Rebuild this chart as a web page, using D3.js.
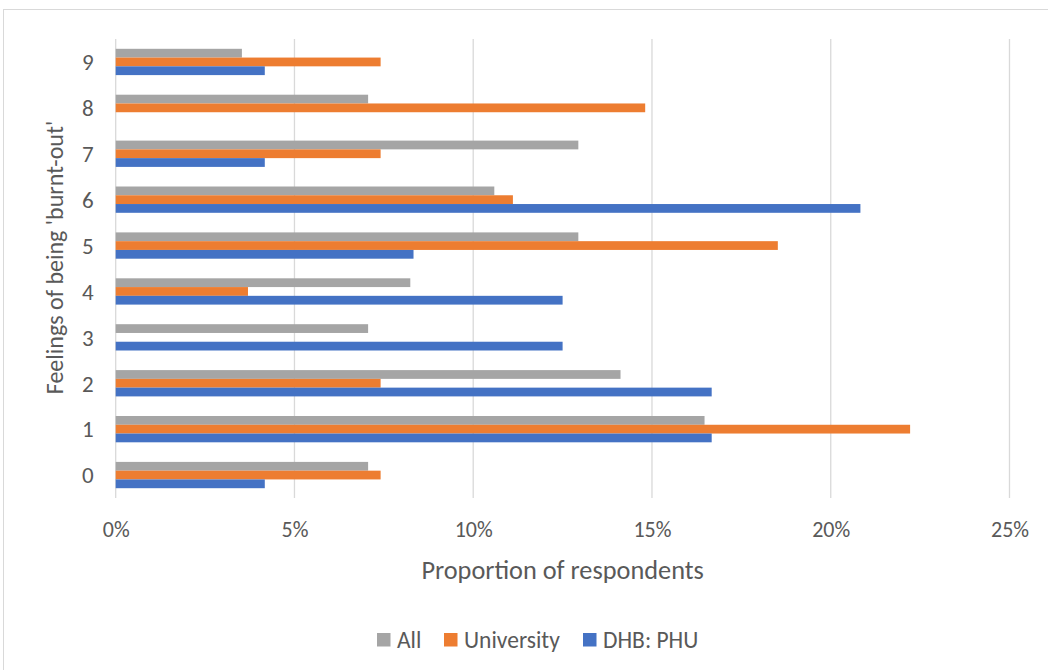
<!DOCTYPE html>
<html>
<head>
<meta charset="utf-8">
<script src="https://cdn.jsdelivr.net/npm/d3@7"></script>
<style>
  html, body { margin: 0; padding: 0; background: #fff; }
  svg { display: block; font-family: Calibri, Carlito, Lato, "Noto Sans", sans-serif; }
</style>
</head>
<body>
<svg id="chart" width="1048" height="670"></svg>
<script>
// ---- data (percent of respondents) ----
const categories = ["0", "1", "2", "3", "4", "5", "6", "7", "8", "9"];
const seriesNames = ["All", "University", "DHB: PHU"];
const allValues = [7.06, 16.47, 14.12, 7.06, 8.24, 12.94, 10.59, 12.94, 7.06, 3.53];
const universityValues = [7.41, 22.22, 7.41, 0, 3.70, 18.52, 11.11, 7.41, 14.81, 7.41];
const dhbValues = [4.17, 16.67, 16.67, 12.5, 12.5, 8.33, 20.83, 4.17, 0, 4.17];
const xTicks = [0, 5, 10, 15, 20, 25];
const colors = ["#A5A5A5", "#ED7D31", "#4472C4"];

const seriesValues = [allValues, universityValues, dhbValues];
const rows = categories.map((c, i) => ({
  cat: c,
  vals: seriesNames.map((s, k) => ({ series: s, k, v: seriesValues[k][i] }))
}));

const svg = d3.select("#chart");

// outer chart border (only top/left visible in frame)
svg.append("rect")
  .attr("x", 3.5).attr("y", 9.5).attr("width", 1100).attr("height", 700)
  .attr("fill", "none").attr("stroke", "#d9d9d9").attr("stroke-width", 1);

const plot = { left: 115.7, right: 1009.5, top: 39, bottom: 498 };

const x = d3.scaleLinear().domain([0, 25]).range([plot.left, plot.right]);
const y = d3.scaleBand()
  .domain(categories.slice().reverse())
  .range([plot.top, plot.bottom])
  .paddingInner(0.427)
  .paddingOuter(0.2135);
const ySub = d3.scaleBand().domain(seriesNames).range([0, y.bandwidth()]);

// gridlines
svg.append("g").selectAll("line").data(xTicks).join("line")
  .attr("x1", d => x(d)).attr("x2", d => x(d))
  .attr("y1", plot.top).attr("y2", plot.bottom)
  .attr("stroke", "#d9d9d9").attr("stroke-width", 1.3);

// bars
svg.append("g").selectAll("g").data(rows).join("g")
  .attr("transform", d => `translate(0,${y(d.cat)})`)
  .selectAll("rect").data(d => d.vals.filter(e => e.v > 0)).join("rect")
  .attr("x", x(0))
  .attr("y", d => ySub(d.series))
  .attr("width", d => x(d.v) - x(0))
  .attr("height", ySub.bandwidth())
  .attr("fill", d => colors[d.k]);

// x axis labels
const xAxis = d3.axisBottom(x).tickValues(xTicks).tickFormat(d => d + "%").tickSize(0).tickPadding(0);
const gx = svg.append("g").attr("transform", `translate(0,${plot.bottom})`).call(xAxis)
  .attr("font-family", null).attr("font-size", null);
gx.select(".domain").remove();
gx.selectAll("text")
  .attr("y", 38.5).attr("dy", null)
  .attr("fill", "#595959").attr("font-size", 22);

// y axis labels
const yAxis = d3.axisLeft(y).tickSize(0).tickPadding(0);
const gy = svg.append("g").attr("transform", `translate(${plot.left},0)`).call(yAxis)
  .attr("font-family", null).attr("font-size", null);
gy.select(".domain").remove();
gy.selectAll("text")
  .attr("x", -22).attr("dy", "0.36em")
  .attr("fill", "#595959").attr("font-size", 23);

// axis titles
svg.append("text")
  .attr("x", (plot.left + plot.right) / 2).attr("y", 579)
  .attr("text-anchor", "middle").attr("fill", "#595959").attr("font-size", 26.3)
  .text("Proportion of respondents");

svg.append("text")
  .attr("transform", `translate(63,${(122 + 393) / 2}) rotate(-90)`)
  .attr("text-anchor", "middle").attr("fill", "#595959").attr("font-size", 24)
  .text("Feelings of being 'burnt-out'");

// legend
const legendX = [377, 444, 583];
const lg = svg.append("g").selectAll("g").data(seriesNames).join("g")
  .attr("transform", (d, i) => `translate(${legendX[i]},633)`);
lg.append("rect").attr("width", 13.5).attr("height", 13.5).attr("fill", (d, i) => colors[i]);
lg.append("text").attr("x", 20).attr("y", 15)
  .attr("fill", "#595959").attr("font-size", 23.5).text(d => d);
</script>
</body>
</html>
